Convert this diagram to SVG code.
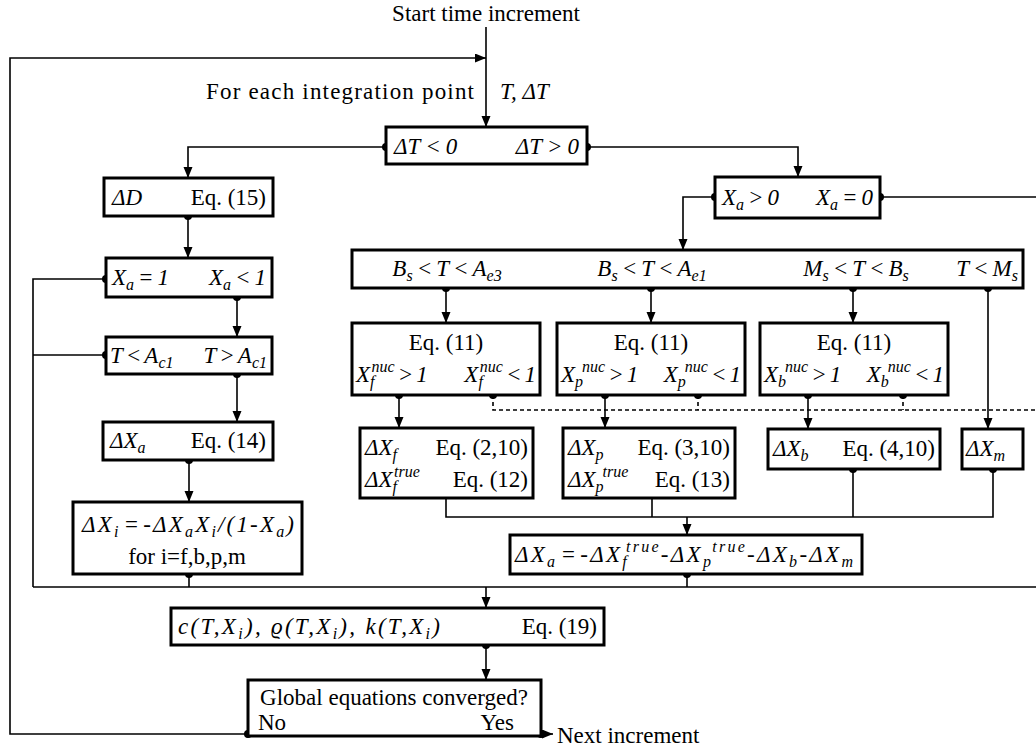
<svg xmlns="http://www.w3.org/2000/svg" width="1036" height="754" viewBox="0 0 1036 754">
<defs>
<style>
.t{font-family:"Liberation Serif","Times New Roman",serif;font-size:23px;fill:#000}
.i{font-style:italic}
.s{font-size:16px}
.box{fill:#fff;stroke:#000;stroke-width:3}
.ln{fill:none;stroke:#000;stroke-width:1.6}
.dash{stroke-dasharray:4 3}
.dot{fill:#000}
.m{text-anchor:middle}
.e{text-anchor:end}
</style>
<marker id="ar" markerUnits="userSpaceOnUse" markerWidth="11" markerHeight="10" refX="11" refY="4.5" orient="auto">
<path d="M0,0 L11,4.5 L0,9 z" fill="#000"/>
</marker>
</defs>
<rect width="1036" height="754" fill="#fff"/>

<g id="connectors">
<path class="ln" d="M486,27 V127" marker-end="url(#ar)"/>
<path class="ln" d="M248,734 H10 V58 H486" marker-end="url(#ar)"/>
<path class="ln" d="M386,147 H188 V178" marker-end="url(#ar)"/>
<path class="ln" d="M587,147 H798 V177" marker-end="url(#ar)"/>
<path class="ln" d="M188,216 V258" marker-end="url(#ar)"/>
<path class="ln" d="M237,297 V337" marker-end="url(#ar)"/>
<path class="ln" d="M106,279 H33 V587"/>
<path class="ln" d="M106,355 H33"/>
<path class="ln" d="M237,374 V422" marker-end="url(#ar)"/>
<path class="ln" d="M189,460 V502" marker-end="url(#ar)"/>
<path class="ln" d="M189,574 V587"/>
<path class="ln" d="M33,587 H1036"/>
<path class="ln" d="M486,587 V608" marker-end="url(#ar)"/>
<path class="ln" d="M486,645 V680" marker-end="url(#ar)"/>
<path class="ln" d="M541,734 H553" marker-end="url(#ar)"/>
<path class="ln" d="M715,197 H683 V250" marker-end="url(#ar)"/>
<path class="ln" d="M880,197 H1036"/>
<path class="ln" d="M446,288 V323" marker-end="url(#ar)"/>
<path class="ln" d="M651,288 V323" marker-end="url(#ar)"/>
<path class="ln" d="M853,288 V323" marker-end="url(#ar)"/>
<path class="ln" d="M988,288 V429" marker-end="url(#ar)"/>
<path class="ln" d="M399,395 V428" marker-end="url(#ar)"/>
<path class="ln" d="M605,395 V428" marker-end="url(#ar)"/>
<path class="ln" d="M808,395 V429" marker-end="url(#ar)"/>
<path class="ln dash" d="M493,395 V410 H1036"/>
<path class="ln dash" d="M698,395 V410"/>
<path class="ln dash" d="M903,395 V410"/>
<path class="ln" d="M446,498 V517 H993 V469"/>
<path class="ln" d="M652,498 V517"/>
<path class="ln" d="M853,469 V517"/>
<path class="ln" d="M687,517 V535" marker-end="url(#ar)"/>
<path class="ln" d="M687,574 V587"/>
<g class="dot">
<circle cx="386" cy="147" r="4"/><circle cx="587" cy="147" r="4"/>
<circle cx="188" cy="216" r="4"/>
<circle cx="106" cy="279" r="4"/><circle cx="237" cy="297" r="4"/>
<circle cx="106" cy="355" r="4"/><circle cx="237" cy="374" r="4"/>
<circle cx="189" cy="460" r="4"/><circle cx="189" cy="574" r="4"/>
<circle cx="486" cy="645" r="4"/>
<circle cx="248" cy="734" r="4"/><circle cx="541" cy="734" r="4"/>
<circle cx="715" cy="197" r="4"/><circle cx="880" cy="197" r="4"/>
<circle cx="446" cy="288" r="4"/><circle cx="651" cy="288" r="4"/><circle cx="853" cy="288" r="4"/><circle cx="988" cy="288" r="4"/>
<circle cx="399" cy="395" r="4"/><circle cx="493" cy="395" r="4"/>
<circle cx="605" cy="395" r="4"/><circle cx="698" cy="395" r="4"/>
<circle cx="808" cy="395" r="4"/><circle cx="903" cy="395" r="4"/>
<circle cx="853" cy="469" r="4"/><circle cx="993" cy="469" r="4"/>
<circle cx="687" cy="574" r="4"/>
</g>
</g>

<g id="start">
<text class="t m" x="486" y="21">Start time increment</text>
</g>
<g id="label-loop">
<text class="t e" x="474" y="99" textLength="268" lengthAdjust="spacing">For each integration point</text>
<text class="t i" x="500" y="99">T, ΔT</text>
</g>

<g id="n-dT">
<rect class="box" x="386" y="127" width="201" height="37"/>
<text class="t i" x="394" y="154">ΔT<tspan dx="5">&lt;</tspan><tspan dx="5">0</tspan></text>
<text class="t i e" x="579" y="154">ΔT<tspan dx="5">&gt;</tspan><tspan dx="5">0</tspan></text>
</g>

<g id="n-dD">
<rect class="box" x="104" y="178" width="169" height="38"/>
<text class="t i" x="112" y="205">ΔD</text>
<text class="t e" x="266" y="205">Eq. (15)</text>
</g>

<g id="n-Xa1">
<rect class="box" x="106" y="258" width="166" height="39"/>
<text class="t i" x="112" y="285">X<tspan class="s" dy="5">a</tspan><tspan dy="-5" dx="4">=</tspan><tspan dx="4">1</tspan></text>
<text class="t i e" x="266" y="285">X<tspan class="s" dy="5">a</tspan><tspan dy="-5" dx="4">&lt;</tspan><tspan dx="4">1</tspan></text>
</g>

<g id="n-TAc">
<rect class="box" x="106" y="337" width="166" height="37"/>
<text class="t i" x="110" y="363">T<tspan dx="3">&lt;</tspan><tspan dx="3">A</tspan><tspan class="s" dy="5">c1</tspan></text>
<text class="t i e" x="267" y="363">T<tspan dx="3">&gt;</tspan><tspan dx="3">A</tspan><tspan class="s" dy="5">c1</tspan></text>
</g>

<g id="n-dXa">
<rect class="box" x="103" y="422" width="170" height="38"/>
<text class="t i" x="110" y="448">ΔX<tspan class="s" dy="5">a</tspan></text>
<text class="t e" x="266" y="448">Eq. (14)</text>
</g>

<g id="n-dXi">
<rect class="box" x="73" y="502" width="229" height="72"/>
<text class="t i m" x="188" y="532" textLength="212" lengthAdjust="spacing">ΔX<tspan class="s" dy="5">i</tspan><tspan dy="-5" dx="3">=</tspan><tspan dx="2">-ΔX</tspan><tspan class="s" dy="5">a</tspan><tspan dy="-5">X</tspan><tspan class="s" dy="5">i</tspan><tspan dy="-5">/(1-X</tspan><tspan class="s" dy="5">a</tspan><tspan dy="-5">)</tspan></text>
<text class="t m" x="187" y="564">for i=f,b,p,m</text>
</g>

<g id="n-c">
<rect class="box" x="171" y="608" width="433" height="37"/>
<text class="t i" x="178" y="634" textLength="262" lengthAdjust="spacing">c(T,X<tspan class="s" dy="5">i</tspan><tspan dy="-5">), ϱ(T,X</tspan><tspan class="s" dy="5">i</tspan><tspan dy="-5">), k(T,X</tspan><tspan class="s" dy="5">i</tspan><tspan dy="-5">)</tspan></text>
<text class="t e" x="597" y="634">Eq. (19)</text>
</g>

<g id="n-global">
<rect class="box" x="248" y="680" width="293" height="56"/>
<text class="t m" x="394" y="705">Global equations converged?</text>
<text class="t" x="258" y="730">No</text>
<text class="t e" x="514" y="730">Yes</text>
</g>
<g id="next">
<text class="t" x="557" y="743">Next increment</text>
</g>

<g id="n-Xa0">
<rect class="box" x="715" y="177" width="165" height="41"/>
<text class="t i" x="722" y="205">X<tspan class="s" dy="5">a</tspan><tspan dy="-5" dx="4">&gt;</tspan><tspan dx="4">0</tspan></text>
<text class="t i e" x="873" y="205">X<tspan class="s" dy="5">a</tspan><tspan dy="-5" dx="4">=</tspan><tspan dx="4">0</tspan></text>
</g>

<g id="n-range">
<rect class="box" x="352" y="250" width="671" height="38"/>
<text class="t i m" x="447" y="276">B<tspan class="s" dy="5">s</tspan><tspan dy="-5" dx="4">&lt;</tspan><tspan dx="4">T</tspan><tspan dx="4">&lt;</tspan><tspan dx="4">A</tspan><tspan class="s" dy="5">e3</tspan></text>
<text class="t i m" x="652" y="276">B<tspan class="s" dy="5">s</tspan><tspan dy="-5" dx="4">&lt;</tspan><tspan dx="4">T</tspan><tspan dx="4">&lt;</tspan><tspan dx="4">A</tspan><tspan class="s" dy="5">e1</tspan></text>
<text class="t i m" x="856" y="276">M<tspan class="s" dy="5">s</tspan><tspan dy="-5" dx="4">&lt;</tspan><tspan dx="4">T</tspan><tspan dx="4">&lt;</tspan><tspan dx="4">B</tspan><tspan class="s" dy="5">s</tspan></text>
<text class="t i e" x="1018" y="276">T<tspan dx="4">&lt;</tspan><tspan dx="4">M</tspan><tspan class="s" dy="5">s</tspan></text>
</g>

<g id="n-nuc-f">
<rect class="box" x="352" y="323" width="188" height="72"/>
<text class="t m" x="446" y="350">Eq. (11)</text>
<text class="t i" x="356" y="382">X<tspan class="s" dy="5">f</tspan><tspan class="s" dx="-3" dy="-15">nuc</tspan><tspan dy="10" dx="3">&gt;</tspan><tspan dx="3">1</tspan></text>
<text class="t i e" x="536" y="382">X<tspan class="s" dy="5">f</tspan><tspan class="s" dx="-3" dy="-15">nuc</tspan><tspan dy="10" dx="3">&lt;</tspan><tspan dx="3">1</tspan></text>
</g>

<g id="n-nuc-p">
<rect class="box" x="557" y="323" width="188" height="72"/>
<text class="t m" x="651" y="350">Eq. (11)</text>
<text class="t i" x="561" y="382">X<tspan class="s" dy="5">p</tspan><tspan class="s" dx="-1" dy="-15">nuc</tspan><tspan dy="10" dx="3">&gt;</tspan><tspan dx="3">1</tspan></text>
<text class="t i e" x="741" y="382">X<tspan class="s" dy="5">p</tspan><tspan class="s" dx="-1" dy="-15">nuc</tspan><tspan dy="10" dx="3">&lt;</tspan><tspan dx="3">1</tspan></text>
</g>

<g id="n-nuc-b">
<rect class="box" x="760" y="323" width="188" height="72"/>
<text class="t m" x="854" y="350">Eq. (11)</text>
<text class="t i" x="764" y="382">X<tspan class="s" dy="5">b</tspan><tspan class="s" dx="-1" dy="-15">nuc</tspan><tspan dy="10" dx="3">&gt;</tspan><tspan dx="3">1</tspan></text>
<text class="t i e" x="944" y="382">X<tspan class="s" dy="5">b</tspan><tspan class="s" dx="-1" dy="-15">nuc</tspan><tspan dy="10" dx="3">&lt;</tspan><tspan dx="3">1</tspan></text>
</g>

<g id="n-dXf">
<rect class="box" x="360" y="428" width="173" height="70"/>
<text class="t i" x="365" y="455">ΔX<tspan class="s" dy="5">f</tspan></text>
<text class="t e" x="528" y="455">Eq. (2,10)</text>
<text class="t i" x="365" y="487">ΔX<tspan class="s" dy="5">f</tspan><tspan class="s" dx="-3" dy="-15">true</tspan></text>
<text class="t e" x="528" y="487">Eq. (12)</text>
</g>

<g id="n-dXp">
<rect class="box" x="563" y="428" width="172" height="70"/>
<text class="t i" x="568" y="455">ΔX<tspan class="s" dy="5">p</tspan></text>
<text class="t e" x="730" y="455">Eq. (3,10)</text>
<text class="t i" x="568" y="487">ΔX<tspan class="s" dy="5">p</tspan><tspan class="s" dx="-1" dy="-15">true</tspan></text>
<text class="t e" x="730" y="487">Eq. (13)</text>
</g>

<g id="n-dXb">
<rect class="box" x="768" y="429" width="172" height="40"/>
<text class="t i" x="773" y="456">ΔX<tspan class="s" dy="5">b</tspan></text>
<text class="t e" x="935" y="456">Eq. (4,10)</text>
</g>

<g id="n-dXm">
<rect class="box" x="962" y="429" width="61" height="40"/>
<text class="t i" x="966" y="456">ΔX<tspan class="s" dy="5">m</tspan></text>
</g>

<g id="n-dXa-sum">
<rect class="box" x="510" y="535" width="352" height="39"/>
<text class="t i" x="515" y="562" textLength="338" lengthAdjust="spacing">ΔX<tspan class="s" dy="5">a</tspan><tspan dy="-5" dx="3">=</tspan><tspan dx="2">-ΔX</tspan><tspan class="s" dy="5">f</tspan><tspan class="s" dx="-3" dy="-15">true</tspan><tspan dy="10">-ΔX</tspan><tspan class="s" dy="5">p</tspan><tspan class="s" dx="-1" dy="-15">true</tspan><tspan dy="10">-ΔX</tspan><tspan class="s" dy="5">b</tspan><tspan dy="-5">-ΔX</tspan><tspan class="s" dy="5">m</tspan></text>
</g>
</svg>
